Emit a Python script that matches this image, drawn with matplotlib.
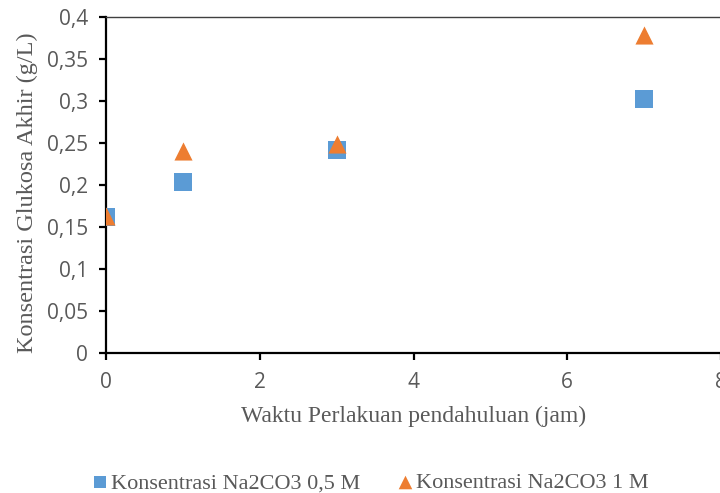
import matplotlib
matplotlib.use("Agg")
import matplotlib.pyplot as plt

x_values = [0, 1, 3, 7]
series_05M = [0.162, 0.203, 0.242, 0.302]
series_1M = [0.163, 0.240, 0.249, 0.379]
label_05M = "Konsentrasi Na2CO3 0,5 M"
label_1M = "Konsentrasi Na2CO3 1 M"
y_ticks = [0, 0.05, 0.1, 0.15, 0.2, 0.25, 0.3, 0.35, 0.4]
y_tick_labels = ["0", "0,05", "0,1", "0,15", "0,2", "0,25", "0,3", "0,35", "0,4"]
x_ticks = [0, 2, 4, 6, 8]

fig = plt.figure(figsize=(7.2, 4.93), dpi=100)
W, H = 720, 493
left, right, top, bottom = 106, 721, 17, 353
ax = fig.add_axes([left / W, 1 - bottom / H, (right - left) / W, (bottom - top) / H])

ax.scatter(x_values, series_05M, marker="s", s=150, color="#5B9BD5", label=label_05M, zorder=3, linewidths=0)
ax.scatter(x_values, series_1M, marker="^", s=170, color="#ED7D31", label=label_1M, zorder=4, linewidths=0)

ax.set_xlim(0, 8)
ax.set_ylim(0, 0.4)
ax.set_yticks(y_ticks)
ax.set_yticklabels(y_tick_labels)
ax.set_xticks(x_ticks)

for s in ["left", "bottom"]:
    ax.spines[s].set_linewidth(1.6)
    ax.spines[s].set_color("black")
for s in ["top", "right"]:
    ax.spines[s].set_linewidth(1.0)
    ax.spines[s].set_color("#404040")

ax.tick_params(axis="both", direction="out", length=5, width=1.6, color="black",
               labelsize=15, labelcolor="#595959")
for lab in ax.get_xticklabels() + ax.get_yticklabels():
    lab.set_family("Open Sans")
ax.tick_params(axis="x", pad=9)
ax.tick_params(axis="y", pad=8)

ax.set_xlabel("Waktu Perlakuan pendahuluan (jam)", family="Liberation Serif", fontsize=17,
              color="#595959", labelpad=9)
ax.set_ylabel("Konsentrasi Glukosa Akhir (g/L)", family="Liberation Serif", fontsize=17.5,
              color="#595959")
ax.yaxis.set_label_coords((38 - left) / (right - left), (bottom - 193) / (bottom - top))

leg = fig.legend(loc="center", bbox_to_anchor=(0.512, 1 - 483 / H), ncol=2, frameon=False,
                 prop={"family": "Liberation Serif", "size": 16}, handletextpad=0.0,
                 columnspacing=1.5, markerscale=0.75, handlelength=1.0)
for t in leg.get_texts():
    t.set_color("#595959")

fig.savefig("out.png", dpi=100)
